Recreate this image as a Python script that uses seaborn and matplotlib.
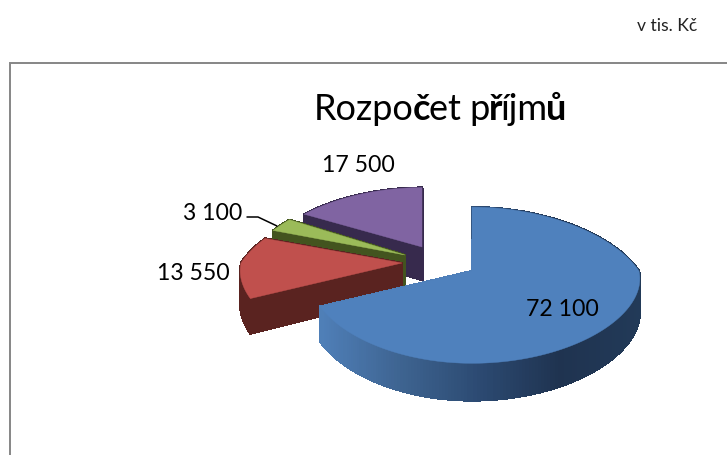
import numpy as np
import matplotlib
matplotlib.use("Agg")
import matplotlib.pyplot as plt
from matplotlib.collections import PolyCollection
from matplotlib.colors import to_rgb
import seaborn as sns

# Data
categories = ["A", "B", "C", "D"]
values = [72100, 13550, 3100, 17500]
value_labels = ["72 100", "13 550", "3 100", "17 500"]
title_parts = [("Rozpo", False), ("č", True), ("et p", False), ("ř", True), ("íjm", False), ("ů", True)]
unit_label = "v tis. Kč"

# Style
face_colors = ["#4F81BD", "#C0504D", "#9BBB59", "#8064A2"]
wall_colors = ["#2a4262", "#5a2320", "#43541f", "#372a4d"]
apexes = [(472, 271), (402, 263), (405, 255), (422, 247)]
radii_x = [167, 161, 155, 158]
left_scale = [0.965, 1.0, 1.0, 1.0]
radii_y = [1.0, 1.0, 1.0, 0.93]
label_pos = [(562, 310), (193.5, 274), (213, 214), (358.5, 166)]
A, KY, KX_BACK, KX_FRONT = 75.5, 0.182, 0.30, 0.10

sns.set_theme(style="white")
plt.rcParams["font.family"] = ["Lato", "DejaVu Sans"]

fig = plt.figure(figsize=(7.27, 4.55), dpi=100)
ax = fig.add_axes([0, 0, 1, 1])
ax.set_xlim(0, 727)
ax.set_ylim(455, 0)
ax.axis("off")


def project(angle, cx, cy, rx, ry, ls):
    u, v = np.sin(angle), np.cos(angle)
    kx = np.where(v > 0, KX_BACK, KX_FRONT)
    scale = np.where(u < 0, ls, 1.0)
    return cx + rx * scale * u / (1 + kx * v), cy - ry * A * v / (1 + KY * v)


def depth(angle):
    return 33.5 / (1 + 0.1 * np.cos(angle))


shares = np.array(values, dtype=float) / sum(values) * 2 * np.pi
starts = np.concatenate([[0], np.cumsum(shares)[:-1]])
blue_ramp = sns.blend_palette(["#4f7fb8", "#3e6491", "#2c4a72", "#1f3350", "#223a58"], 256)

for i in [3, 2, 1, 0]:
    th = np.linspace(starts[i], starts[i] + shares[i], 240)
    cx, cy = apexes[i]
    xs, ys = project(th, cx, cy, radii_x[i], radii_y[i], left_scale[i])
    quads, cols = [], []
    d = depth(th)
    for j in range(len(th) - 1):
        quads.append([(xs[j], ys[j]), (xs[j + 1], ys[j + 1]),
                      (xs[j + 1], ys[j + 1] + d[j + 1]), (xs[j], ys[j] + d[j])])
        if i == 0:
            t = np.clip((xs[j] - 320) / 320, 0, 0.999)
            cols.append(blue_ramp[int(t * 256)])
        else:
            cols.append(to_rgb(wall_colors[i]))
    # radial walls
    end_col = blue_ramp[0] if i == 0 else to_rgb(wall_colors[i])
    for (px, py, dd) in [(xs[0], ys[0], d[0]), (xs[-1], ys[-1], d[-1])]:
        quads.append([(cx, cy), (px, py), (px, py + dd), (cx, cy + 33)])
        cols.append(end_col)
    # radial walls go underneath the rim strips
    quads = quads[-2:] + quads[:-2]
    cols = cols[-2:] + cols[:-2]
    ax.add_collection(PolyCollection(quads, facecolors=cols, edgecolors=cols, linewidths=0.9,
                                     antialiaseds=False, zorder=2 + (3 - i) * 2))
    ax.fill(np.r_[cx, xs], np.r_[cy, ys], color=sns.color_palette([face_colors[i]])[0],
            lw=0.3, zorder=3 + (3 - i) * 2)

# Value labels
for lab, (x, y) in zip(value_labels, label_pos):
    ax.text(x, y, lab, fontsize=16.6, color="black", ha="center", va="center", zorder=20)
ax.plot([247, 258, 277], [217, 217, 226], color="black", lw=1.1, zorder=20)

# Title, with the bold fallback letters
renderer = fig.canvas.get_renderer()
x = 314.0
for part, bold in title_parts:
    t = ax.text(x, 120, part, fontsize=26, fontweight="bold" if bold else "normal",
                color="black", ha="left", va="baseline", zorder=20)
    x += t.get_window_extent(renderer).width - 1.4

ax.text(667.5, 26, unit_label, fontsize=12.6, color="#222222", ha="center", va="center")

# Frame
ax.plot([9.5, 9.5, 727], [455, 63, 63], color="#868686", lw=1.4, zorder=1, solid_joinstyle="miter")

fig.savefig("out.png", dpi=100)
